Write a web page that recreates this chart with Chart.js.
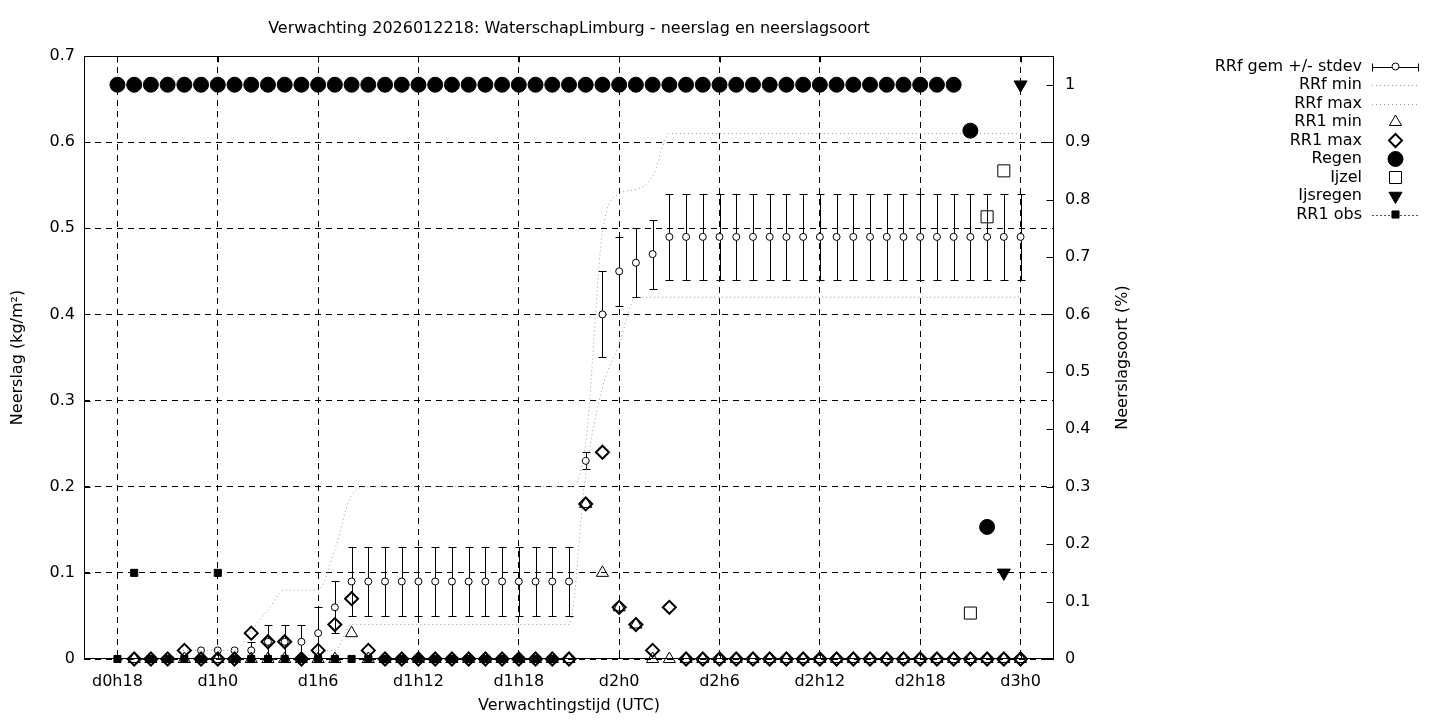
<!DOCTYPE html>
<html>
<head>
<meta charset="utf-8">
<script src="https://cdn.jsdelivr.net/npm/chart.js@4.4.1/dist/chart.umd.min.js"></script>
<style>
  html, body { margin: 0; padding: 0; background: #fff; }
  #wrap { width: 1440px; height: 720px; }
</style>
</head>
<body>
<div id="wrap"><canvas id="grafiek" width="1440" height="720"></canvas></div>
<script>
// uren sinds d0h0 (d0h18 .. d3h0)
const uren = [18, 19, 20, 21, 22, 23, 24, 25, 26, 27, 28, 29, 30, 31, 32, 33, 34, 35, 36, 37,
  38, 39, 40, 41, 42, 43, 44, 45, 46, 47, 48, 49, 50, 51, 52, 53, 54, 55, 56, 57,
  58, 59, 60, 61, 62, 63, 64, 65, 66, 67, 68, 69, 70, 71, 72];

const xTickUren = [18, 24, 30, 36, 42, 48, 54, 60, 66, 72];
const xTickLabels = ["d0h18", "d1h0", "d1h6", "d1h12", "d1h18", "d2h0", "d2h6", "d2h12", "d2h18", "d3h0"];
const yTicks = [0, 0.1, 0.2, 0.3, 0.4, 0.5, 0.6, 0.7];
const yTickLabels = ["0", "0.1", "0.2", "0.3", "0.4", "0.5", "0.6", "0.7"];
const y2Ticks = [0, 0.1, 0.2, 0.3, 0.4, 0.5, 0.6, 0.7, 0.8, 0.9, 1];
const y2TickLabels = ["0", "0.1", "0.2", "0.3", "0.4", "0.5", "0.6", "0.7", "0.8", "0.9", "1"];

// neerslag (kg/m2), links
const rrfGem = [null, null, null, null, null, 0.01, 0.01, 0.01, 0.01, 0.02, 0.02, 0.02, 0.03, 0.06,
  0.09, 0.09, 0.09, 0.09, 0.09, 0.09, 0.09, 0.09, 0.09, 0.09, 0.09, 0.09, 0.09, 0.09,
  0.23, 0.40, 0.45, 0.46, 0.47,
  0.49, 0.49, 0.49, 0.49, 0.49, 0.49, 0.49, 0.49, 0.49, 0.49, 0.49, 0.49, 0.49, 0.49, 0.49, 0.49, 0.49, 0.49, 0.49, 0.49, 0.49, 0.49];
const rrfStdev = [null, null, null, null, null, null, null, null, 0.01, 0.02, 0.02, 0.02, 0.03, 0.03,
  0.04, 0.04, 0.04, 0.04, 0.04, 0.04, 0.04, 0.04, 0.04, 0.04, 0.04, 0.04, 0.04, 0.04,
  0.01, 0.05, 0.04, 0.04, 0.04,
  0.05, 0.05, 0.05, 0.05, 0.05, 0.05, 0.05, 0.05, 0.05, 0.05, 0.05, 0.05, 0.05, 0.05, 0.05, 0.05, 0.05, 0.05, 0.05, 0.05, 0.05, 0.05];
const rrfMin = [0, 0, 0, 0, 0, 0, 0, 0, 0, 0, 0, 0, 0.01, 0.01,
  0.04, 0.04, 0.04, 0.04, 0.04, 0.04, 0.04, 0.04, 0.04, 0.04, 0.04, 0.04, 0.04, 0.04,
  0.215, 0.315, 0.365,
  0.42, 0.42, 0.42, 0.42, 0.42, 0.42, 0.42, 0.42, 0.42, 0.42, 0.42, 0.42, 0.42, 0.42, 0.42, 0.42, 0.42, 0.42, 0.42, 0.42, 0.42, 0.42, 0.42, 0.42];
const rrfMax = [0, 0, 0, 0, 0.01, 0.01, 0.01, 0.01, 0.033, 0.057, 0.08, 0.08, 0.08, 0.127, 0.19,
  0.2, 0.2, 0.2, 0.2, 0.2, 0.2, 0.2, 0.2, 0.2, 0.2, 0.2, 0.2, 0.2,
  0.25, 0.495, 0.54, 0.545, 0.56,
  0.61, 0.61, 0.61, 0.61, 0.61, 0.61, 0.61, 0.61, 0.61, 0.61, 0.61, 0.61, 0.61, 0.61, 0.61, 0.61, 0.61, 0.61, 0.61, 0.61, 0.61, 0.61];
const rr1Min = [null, 0, 0, 0, 0, 0, 0, 0, 0, 0, 0, 0, 0, 0, 0.03,
  0, 0, 0, 0, 0, 0, 0, 0, 0, 0, 0, 0, 0,
  0.18, 0.10, 0.06, 0.04,
  0, 0, 0, 0, 0, 0, 0, 0, 0, 0, 0, 0, 0, 0, 0, 0, 0, 0, 0, 0, 0, 0, 0];
const rr1Max = [null, 0, 0, 0, 0.01, 0, 0, 0, 0.03, 0.02, 0.02, 0, 0.01, 0.04, 0.07, 0.01,
  0, 0, 0, 0, 0, 0, 0, 0, 0, 0, 0, 0,
  0.18, 0.24, 0.06, 0.04, 0.01, 0.06,
  0, 0, 0, 0, 0, 0, 0, 0, 0, 0, 0, 0, 0, 0, 0, 0, 0, 0, 0, 0, 0];
const rr1Obs = [0, 0.1, 0, 0, 0, 0, 0.1, 0, 0, 0, 0, 0, 0, 0, 0, 0, 0, 0, 0, 0, 0, 0, 0, 0, 0, 0, 0,
  null, null, null, null, null, null, null, null, null, null, null, null, null, null, null, null, null, null, null, null, null, null, null, null, null, null, null];

// neerslagsoort (fractie), rechts
const regen = [1, 1, 1, 1, 1, 1, 1, 1, 1, 1, 1, 1, 1, 1, 1, 1, 1, 1, 1, 1, 1, 1, 1, 1, 1, 1,
  1, 1, 1, 1, 1, 1, 1, 1, 1, 1, 1, 1, 1, 1, 1, 1, 1, 1, 1, 1, 1, 1, 1, 1, 1, 0.92, 0.23, null, null];
const ijzel = [null, null, null, null, null, null, null, null, null, null, null, null, null, null, null, null, null,
  null, null, null, null, null, null, null, null, null, null, null, null, null, null, null, null, null,
  null, null, null, null, null, null, null, null, null, null, null, null, null, null, null, null, null, 0.08, 0.77, 0.85, null];
const ijsregen = [null, null, null, null, null, null, null, null, null, null, null, null, null, null, null, null, null,
  null, null, null, null, null, null, null, null, null, null, null, null, null, null, null, null, null,
  null, null, null, null, null, null, null, null, null, null, null, null, null, null, null, null, null, null, null, 0.15, 1];

const FONT = "DejaVu Sans";
const FS = 16;
const punten = (reeks) => uren.map((u, i) => ({ x: u, y: reeks[i] }));
const zetTicks = (waarden) => (s) => { s.ticks = waarden.map(v => ({ value: v })); };

function marker(stijl, r, kleur, vul, dikte, yAs, extra) {
  return Object.assign({
    showLine: false,
    pointStyle: stijl,
    pointRadius: r,
    pointBorderColor: kleur,
    pointBackgroundColor: vul,
    pointBorderWidth: dikte,
    borderColor: kleur,
    backgroundColor: vul,
    yAxisID: yAs,
    clip: false,
  }, extra || {});
}

const legenda = [
  { tekst: "RRf gem +/- stdev", soort: "fout" },
  { tekst: "RRf min", soort: "stip" },
  { tekst: "RRf max", soort: "stip" },
  { tekst: "RR1 min", soort: "punt", p: { pointStyle: "triangle", radius: 7, borderWidth: 1 }, vul: "rgba(0,0,0,0)" },
  { tekst: "RR1 max", soort: "punt", p: { pointStyle: "rectRot", radius: 6.5, borderWidth: 2 }, vul: "rgba(0,0,0,0)" },
  { tekst: "Regen", soort: "punt", p: { pointStyle: "circle", radius: 7.5, borderWidth: 1 }, vul: "#000" },
  { tekst: "Ijzel", soort: "punt", p: { pointStyle: "rect", radius: 8.5, borderWidth: 1 }, vul: "rgba(0,0,0,0)" },
  { tekst: "Ijsregen", soort: "punt", p: { pointStyle: "triangle", radius: 7.5, rotation: 180, borderWidth: 1 }, vul: "#000" },
  { tekst: "RR1 obs", soort: "obs", p: { pointStyle: "rect", radius: 5, borderWidth: 1 }, vul: "#000" },
];

const gnuplotStijl = {
  id: "gnuplotStijl",
  beforeDatasetsDraw(chart) {
    // foutbalken rond het gemiddelde
    const { ctx, scales: { x, y } } = chart;
    ctx.save();
    ctx.strokeStyle = "#000";
    ctx.lineWidth = 1;
    uren.forEach((u, i) => {
      if (rrfGem[i] === null || rrfStdev[i] === null) return;
      const px = Math.round(x.getPixelForValue(u)) + 0.5;
      const lo = Math.round(y.getPixelForValue(rrfGem[i] - rrfStdev[i])) + 0.5;
      const hi = Math.round(y.getPixelForValue(rrfGem[i] + rrfStdev[i])) + 0.5;
      ctx.beginPath();
      ctx.moveTo(px, lo); ctx.lineTo(px, hi);
      ctx.moveTo(px - 4, lo); ctx.lineTo(px + 4, lo);
      ctx.moveTo(px - 4, hi); ctx.lineTo(px + 4, hi);
      ctx.stroke();
    });
    ctx.restore();
  },
  afterDraw(chart) {
    const { ctx, chartArea: ca, scales: { x, y, y2 } } = chart;
    ctx.save();
    // kader + tics naar binnen
    ctx.strokeStyle = "#000";
    ctx.lineWidth = 1;
    const L = Math.round(ca.left) + 0.5, R = Math.round(ca.right) - 0.5;
    const T = Math.round(ca.top) + 0.5, B = Math.round(ca.bottom) - 0.5;
    ctx.strokeRect(L, T, R - L, B - T);
    ctx.beginPath();
    xTickUren.forEach(u => {
      const px = Math.round(x.getPixelForValue(u)) + 0.5;
      ctx.moveTo(px, B); ctx.lineTo(px, B - 6);
      ctx.moveTo(px, T); ctx.lineTo(px, T + 6);
    });
    yTicks.forEach(v => {
      const py = Math.round(y.getPixelForValue(v)) + 0.5;
      ctx.moveTo(L, py); ctx.lineTo(L + 6, py);
    });
    y2Ticks.forEach(v => {
      const py = Math.round(y2.getPixelForValue(v)) + 0.5;
      ctx.moveTo(R, py); ctx.lineTo(R - 7, py);
    });
    ctx.stroke();

    // titel
    ctx.fillStyle = "#000";
    ctx.font = FS + "px '" + FONT + "'";
    ctx.textAlign = "center";
    ctx.textBaseline = "middle";
    ctx.fillText("Verwachting 2026012218: WaterschapLimburg - neerslag en neerslagsoort", (ca.left + ca.right) / 2, 29);

    // y2 label
    ctx.save();
    ctx.translate(1123, (ca.top + ca.bottom) / 2);
    ctx.rotate(-Math.PI / 2);
    ctx.fillText("Neerslagsoort (%)", 0, 0);
    ctx.restore();

    // legenda
    const tekenPunt = Chart.helpers && Chart.helpers.drawPoint;
    legenda.forEach((item, i) => {
      const ly = 66.5 + i * 18.5;
      ctx.fillStyle = "#000";
      ctx.textAlign = "right";
      ctx.fillText(item.tekst, 1362, ly);
      const x1 = 1372, x2 = 1419, xm = 1395.5;
      const py = Math.round(ly) + 0.5;
      ctx.save();
      if (item.soort === "fout") {
        ctx.strokeStyle = "#000"; ctx.lineWidth = 1;
        ctx.beginPath();
        ctx.moveTo(x1, py); ctx.lineTo(x2, py);
        ctx.moveTo(x1 + 0.5, py - 4); ctx.lineTo(x1 + 0.5, py + 4);
        ctx.moveTo(x2 - 0.5, py - 4); ctx.lineTo(x2 - 0.5, py + 4);
        ctx.stroke();
        ctx.fillStyle = "#fff";
        ctx.beginPath(); ctx.arc(xm, ly, 3.5, 0, Math.PI * 2); ctx.fill(); ctx.stroke();
      } else if (item.soort === "stip" || item.soort === "obs") {
        ctx.strokeStyle = item.soort === "stip" ? "#999" : "#555";
        ctx.lineWidth = 1;
        ctx.setLineDash(item.soort === "stip" ? [1, 3] : [2, 2]);
        ctx.beginPath(); ctx.moveTo(x1, py); ctx.lineTo(x2, py); ctx.stroke();
        ctx.setLineDash([]);
      }
      if (item.p && tekenPunt) {
        ctx.strokeStyle = "#000";
        ctx.fillStyle = item.vul;
        ctx.lineWidth = item.p.borderWidth;
        tekenPunt(ctx, item.p, xm, ly);
      }
      ctx.restore();
    });
    ctx.restore();
  }
};

const n = 9;
const datasets = [
  marker("circle", 3.5, "#000", "#fff", 1, "y", { label: "RRf gem +/- stdev", data: punten(rrfGem) }),
  { label: "RRf min", data: punten(rrfMin), yAxisID: "y", borderColor: "#9a9a9a", borderWidth: 1,
    borderDash: [1, 3], pointRadius: 0, cubicInterpolationMode: "monotone", fill: false, clip: false },
  { label: "RRf max", data: punten(rrfMax), yAxisID: "y", borderColor: "#9a9a9a", borderWidth: 1,
    borderDash: [1, 3], pointRadius: 0, cubicInterpolationMode: "monotone", fill: false, clip: false },
  marker("triangle", 7, "#000", "rgba(0,0,0,0)", 1, "y", { label: "RR1 min", data: punten(rr1Min) }),
  marker("rectRot", 6.5, "#000", "rgba(0,0,0,0)", 2, "y", { label: "RR1 max", data: punten(rr1Max) }),
  marker("circle", 7.5, "#000", "#000", 1, "y2", { label: "Regen", data: punten(regen) }),
  marker("rect", 8.5, "#000", "rgba(0,0,0,0)", 1, "y2", { label: "Ijzel", data: punten(ijzel) }),
  marker("triangle", 7.5, "#000", "#000", 1, "y2", { label: "Ijsregen", data: punten(ijsregen), pointRotation: 180 }),
  marker("rect", 5, "#000", "#000", 1, "y", { label: "RR1 obs", data: punten(rr1Obs) }),
];
// later getekende reeksen liggen bovenop (zoals gnuplot)
datasets.forEach((d, i) => { d.order = n - i; });

new Chart(document.getElementById("grafiek").getContext("2d"), {
  type: "line",
  data: { datasets },
  plugins: [gnuplotStijl],
  options: {
    responsive: false,
    animation: false,
    events: [],
    layout: { padding: { left: 0, right: 0, top: 56, bottom: 0 } },
    plugins: { legend: { display: false }, tooltip: { enabled: false }, title: { display: false } },
    scales: {
      x: {
        type: "linear", min: 16, max: 74,
        afterBuildTicks: zetTicks(xTickUren),
        afterFit: (s) => { s.height = 61; },
        grid: { color: "#000", lineWidth: 1, drawTicks: false },
        border: { display: false, dash: [6, 5] },
        ticks: {
          color: "#000", font: { family: FONT, size: FS }, padding: 13, maxRotation: 0, autoSkip: false,
          callback: (v) => xTickLabels[xTickUren.indexOf(v)],
        },
        title: { display: true, text: "Verwachtingstijd (UTC)", color: "#000", font: { family: FONT, size: FS },
          padding: { top: 0, bottom: 5 } },
      },
      y: {
        position: "left", min: 0, max: 0.7,
        afterBuildTicks: zetTicks(yTicks),
        afterFit: (s) => { s.width = 84; },
        grid: { color: "#000", lineWidth: 1, drawTicks: false },
        border: { display: false, dash: [6, 5] },
        ticks: {
          color: "#000", font: { family: FONT, size: FS }, padding: 9, autoSkip: false,
          callback: (v) => yTickLabels[yTicks.indexOf(v)],
        },
        title: { display: true, text: "Neerslag (kg/m²)", color: "#000", font: { family: FONT, size: FS },
          padding: { top: 8, bottom: 0 } },
      },
      y2: {
        position: "right", min: 0, max: 1.05,
        afterBuildTicks: zetTicks(y2Ticks),
        afterFit: (s) => { s.width = 386; },
        grid: { display: false, drawTicks: false },
        border: { display: false },
        ticks: {
          color: "#000", font: { family: FONT, size: FS }, padding: 11, autoSkip: false,
          callback: (v) => y2TickLabels[y2Ticks.indexOf(v)],
        },
      },
    },
  },
});
</script>
</body>
</html>
